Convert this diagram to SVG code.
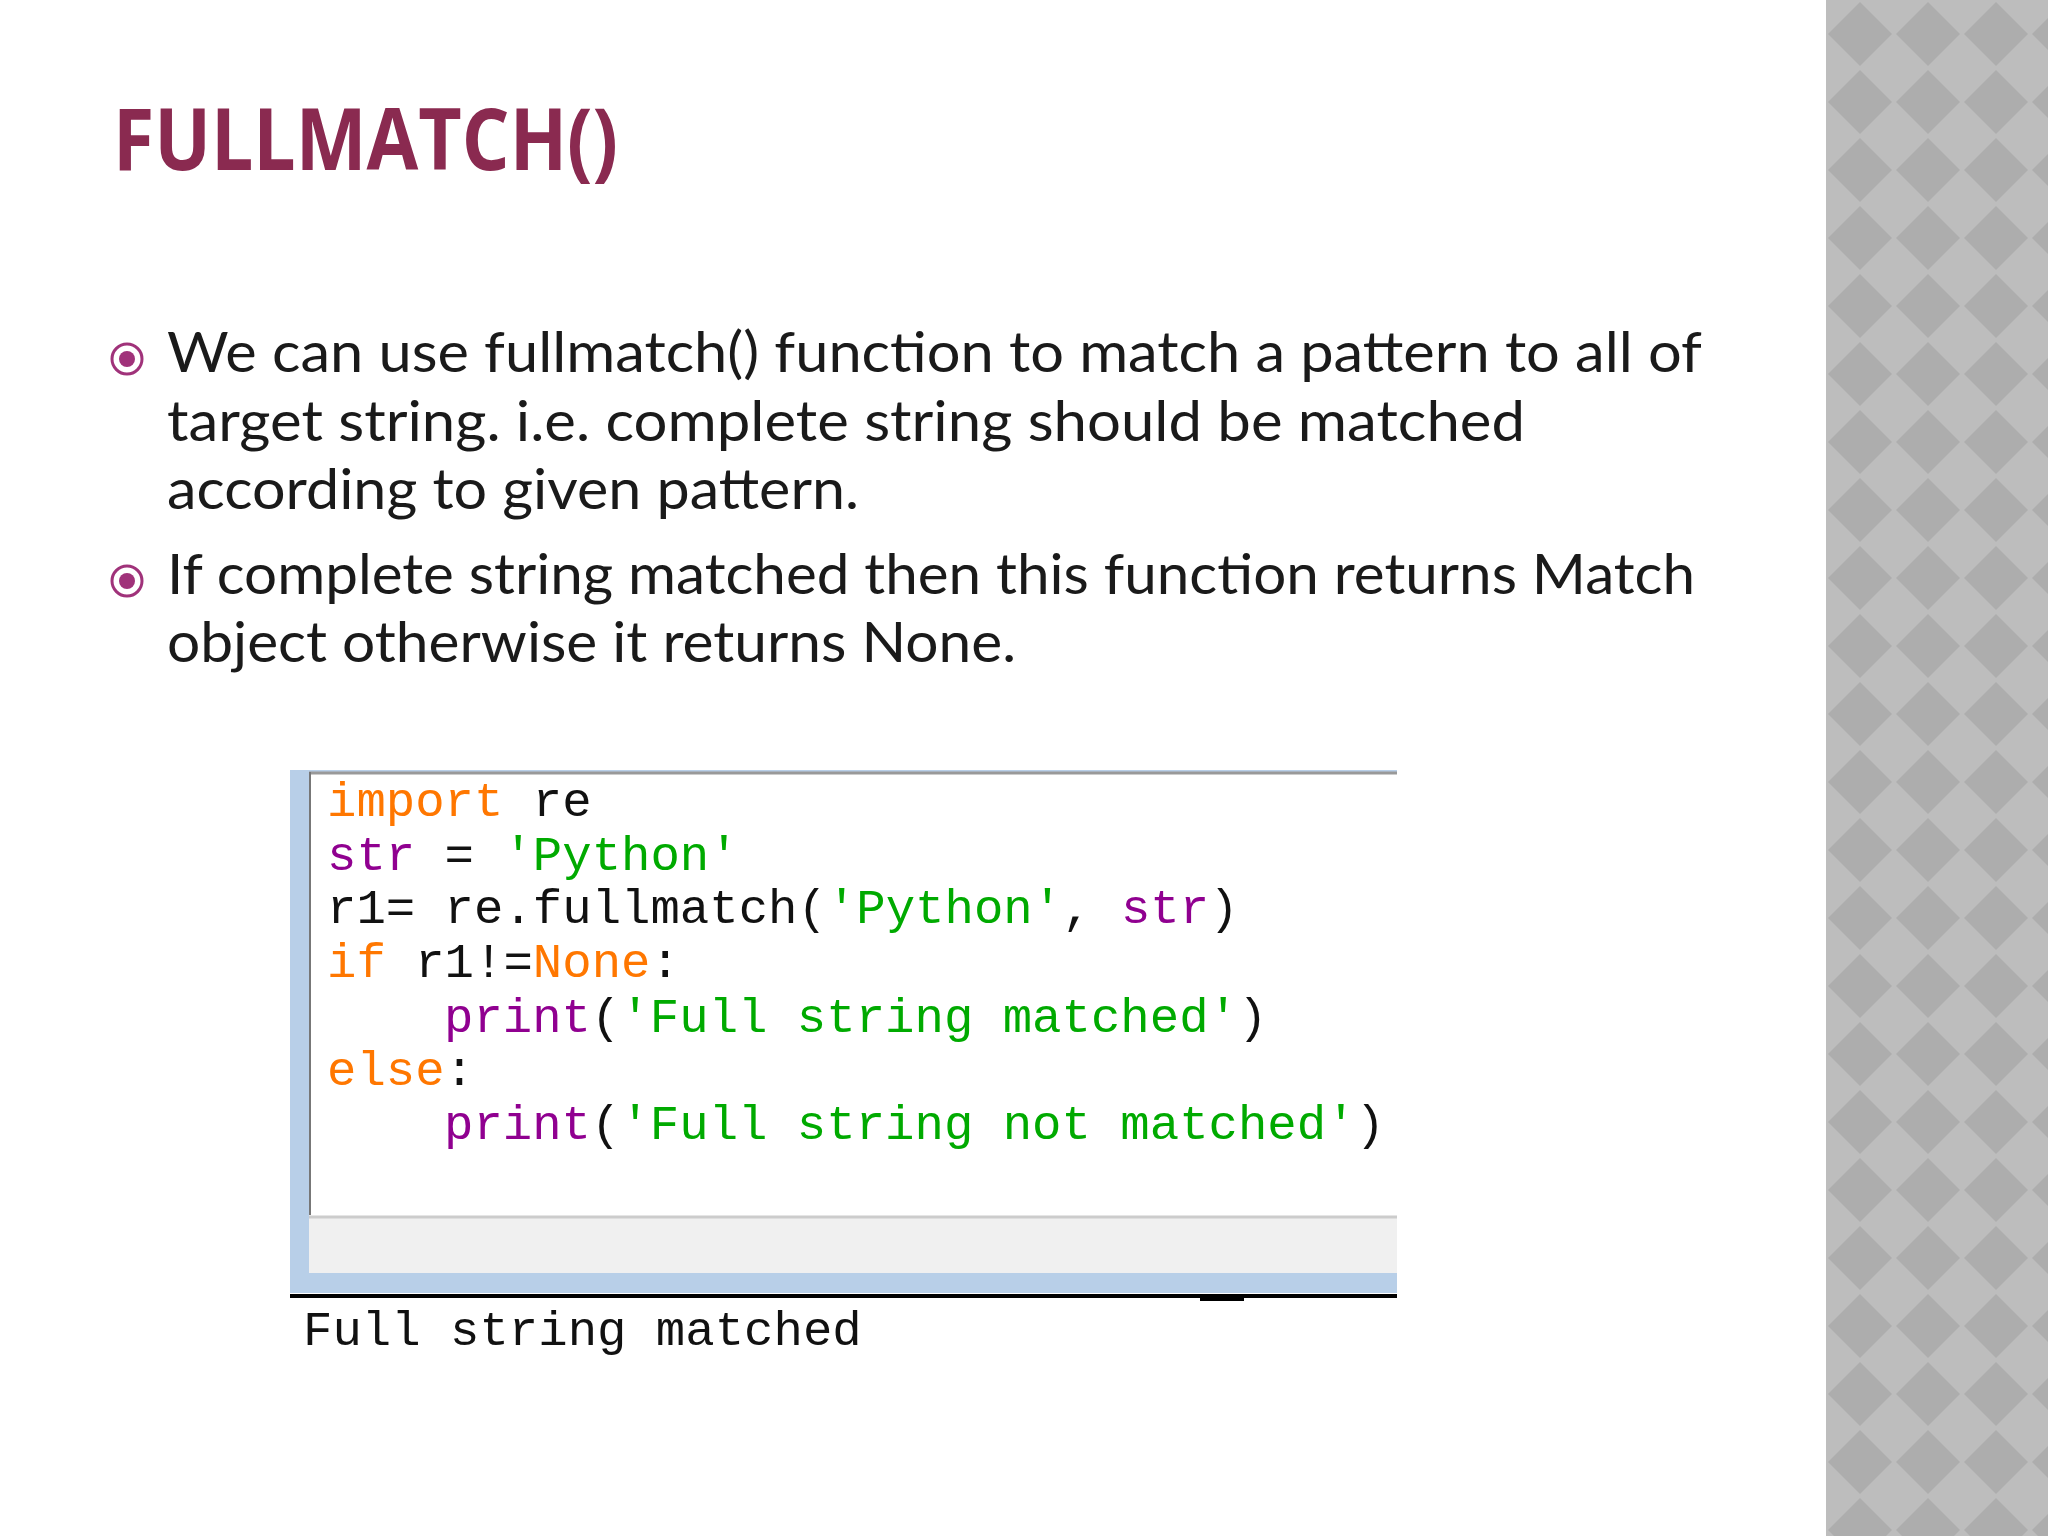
<svg xmlns="http://www.w3.org/2000/svg" width="2048" height="1536" viewBox="0 0 2048 1536">
<style>
.b{font-family:"Lato","Open Sans",sans-serif;font-size:56px;fill:#1a1a1a}
.c{font-family:"Liberation Mono","Courier New",monospace;font-size:49px;fill:#111}
.o{fill:#ff7700}.p{fill:#900090}.g{fill:#00aa00}
</style>
<defs>
<pattern id="dia" x="1826" y="0" width="68" height="68" patternUnits="userSpaceOnUse">
<rect width="68" height="68" fill="#bdbdbd"/>
<polygon points="34,2 66,34 34,66 2,34" fill="#adadad"/>
</pattern>
</defs>
<rect width="2048" height="1536" fill="#fff"/>
<rect x="1826" y="0" width="222" height="1536" fill="url(#dia)"/>
<g id="title"><text x="113" y="170" font-family="Open Sans, sans-serif" font-weight="bold" font-size="86" fill="#8a2a50" textLength="505" lengthAdjust="spacingAndGlyphs">FULLMATCH()</text></g>
<g id="bullets">
<circle cx="127" cy="359" r="15" fill="none" stroke="#a0327a" stroke-width="3"/><circle cx="127" cy="359" r="8" fill="#a0327a"/>
<circle cx="127" cy="581" r="15" fill="none" stroke="#a0327a" stroke-width="3"/><circle cx="127" cy="581" r="8" fill="#a0327a"/>
<text class="b" x="167" y="372" textLength="1535" lengthAdjust="spacingAndGlyphs">We can use fullmatch() function to match a pattern to all of</text>
<text class="b" x="167" y="441" textLength="1358" lengthAdjust="spacingAndGlyphs">target string. i.e. complete string should be matched</text>
<text class="b" x="167" y="509" textLength="692" lengthAdjust="spacingAndGlyphs">according to given pattern.</text>
<text class="b" x="167" y="594" textLength="1528" lengthAdjust="spacingAndGlyphs">If complete string matched then this function returns Match</text>
<text class="b" x="167" y="662" textLength="849" lengthAdjust="spacingAndGlyphs">object otherwise it returns None.</text>
</g>
<g id="code">
<rect x="290" y="770" width="1107" height="523" fill="#b8cfe8"/>
<rect x="309" y="772" width="1088" height="444" fill="#fff"/>
<line x1="309" y1="773" x2="1397" y2="773" stroke="#999" stroke-width="3"/>
<line x1="310" y1="772" x2="310" y2="1215" stroke="#777" stroke-width="2"/>
<rect x="309" y="1216" width="1088" height="57" fill="#f0f0f0"/>
<line x1="309" y1="1217" x2="1397" y2="1217" stroke="#ccc" stroke-width="3"/>
<line x1="290" y1="1296" x2="1397" y2="1296" stroke="#000" stroke-width="4"/>
<rect x="1200" y="1296" width="44" height="5" fill="#000"/>
<g xml:space="preserve">
<text class="c" x="327" y="816"><tspan class="o">import</tspan> re</text>
<text class="c" x="327" y="870"><tspan class="p">str</tspan> = <tspan class="g">'Python'</tspan></text>
<text class="c" x="327" y="923">r1= re.fullmatch(<tspan class="g">'Python'</tspan>, <tspan class="p">str</tspan>)</text>
<text class="c" x="327" y="977"><tspan class="o">if</tspan> r1!=<tspan class="o">None</tspan>:</text>
<text class="c" x="444" y="1032"><tspan class="p">print</tspan>(<tspan class="g">'Full string matched'</tspan>)</text>
<text class="c" x="327" y="1085"><tspan class="o">else</tspan>:</text>
<text class="c" x="444" y="1139"><tspan class="p">print</tspan>(<tspan class="g">'Full string not matched'</tspan>)</text>
<text class="c" x="303" y="1345" fill="#1a1aee">Full string matched</text>
</g>
</g>
</svg>
